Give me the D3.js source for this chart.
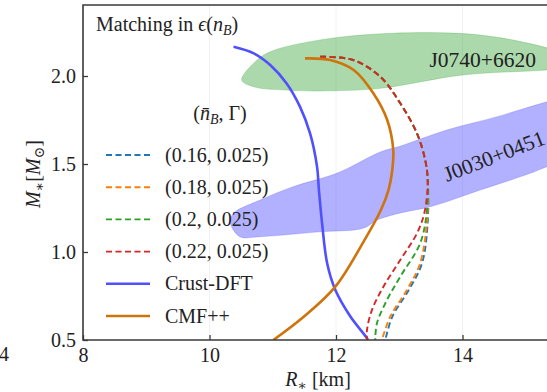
<!DOCTYPE html>
<html>
<head>
<meta charset="utf-8">
<script src="https://cdn.jsdelivr.net/npm/d3@7"></script>
<style>
  html, body { margin: 0; padding: 0; background: #fff; }
  svg { display: block; }
  text { font-family: "Liberation Serif", "DejaVu Serif", serif; fill: #222; }
</style>
</head>
<body>
<svg id="chart" width="547" height="392"></svg>
<script>
// Mass–radius curves, R in km and M in solar masses
const crustR = [10.38, 10.70, 10.96, 11.22, 11.43, 11.59, 11.70, 11.73, 11.78, 11.86, 11.99, 12.23, 12.49, 12.50];
const crustM = [2.166, 2.129, 2.063, 1.958, 1.826, 1.674, 1.485, 1.352, 1.163, 0.936, 0.784, 0.632, 0.510, 0.50];

const cmfR = [11.51, 11.91, 12.28, 12.59, 12.81, 12.905, 12.89, 12.83, 12.71, 12.45, 11.99, 11.49, 11.01];
const cmfM = [2.100, 2.091, 2.034, 1.902, 1.750, 1.580, 1.466, 1.352, 1.239, 1.068, 0.803, 0.632, 0.50];

// matching parameters (n̄_B, Γ) and resulting curves
const matchLabels = ["(0.16, 0.025)", "(0.18, 0.025)", "(0.2, 0.025)", "(0.22, 0.025)"];
const matchColors = ["#1f77b4", "#ff7f0e", "#2ca02c", "#d62728"];
const match016R = [11.75, 12.27, 12.70, 13.016, 13.28, 13.41, 13.45, 13.45, 13.36, 13.15, 12.89, 12.78];
const match016M = [2.110, 2.091, 1.996, 1.845, 1.674, 1.523, 1.409, 1.170, 0.936, 0.784, 0.632, 0.50];
const match018R = [11.75, 12.27, 12.70, 13.016, 13.28, 13.41, 13.45, 13.44, 13.33, 13.12, 12.857, 12.726];
const match018M = [2.110, 2.091, 1.996, 1.845, 1.674, 1.523, 1.409, 1.182, 0.936, 0.784, 0.632, 0.50];
const match020R = [11.75, 12.27, 12.70, 13.016, 13.28, 13.41, 13.45, 13.435, 13.33, 13.016, 12.805, 12.647, 12.62];
const match020M = [2.110, 2.091, 1.996, 1.845, 1.674, 1.523, 1.409, 1.227, 1.049, 0.860, 0.727, 0.595, 0.50];
const match022R = [11.75, 12.27, 12.70, 13.016, 13.28, 13.41, 13.45, 13.40, 13.28, 13.016, 12.75, 12.568, 12.49, 12.49];
const match022M = [2.110, 2.091, 1.996, 1.845, 1.674, 1.523, 1.409, 1.227, 1.106, 0.955, 0.803, 0.670, 0.557, 0.50];

// observational constraint regions (outline in R, M)
const j0740R = [10.51, 10.72, 10.96, 11.75, 12.90, 14.28, 15.34, 16.20, 15.34, 14.01, 12.70, 11.75, 11.22, 10.72];
const j0740M = [1.977, 2.080, 2.138, 2.205, 2.243, 2.233, 2.160, 2.060, 2.034, 2.006, 1.930, 1.915, 1.920, 1.937];
const j0030R = [10.33, 10.38, 10.80, 11.32, 12.01, 12.70, 13.02, 13.75, 14.55, 15.34, 16.20,
                16.20, 15.34, 15.07, 14.28, 13.49, 13.02, 12.65, 12.43, 11.75, 10.80, 10.48];
const j0030M = [1.165, 1.220, 1.295, 1.371, 1.447, 1.568, 1.602, 1.693, 1.769, 1.854, 1.930,
                1.580, 1.485, 1.447, 1.352, 1.257, 1.222, 1.182, 1.135, 1.115, 1.087, 1.087];

const xTicks = [8, 10, 12, 14];
const yTicks = [0.5, 1.0, 1.5, 2.0];

const svg = d3.select("#chart");
const pLeft = 83, pRight = 589, pTop = 5, pBottom = 340;
const x = d3.scaleLinear().domain([8, 16]).range([pLeft, pRight]);
const y = d3.scaleLinear().domain([0.5, 2.4035]).range([pBottom, pTop]);

svg.append("defs").append("clipPath").attr("id", "plot")
  .append("rect").attr("x", pLeft).attr("y", pTop).attr("width", pRight - pLeft).attr("height", pBottom - pTop);

const plot = svg.append("g").attr("clip-path", "url(#plot)");

// faint vertical guides
plot.selectAll("line.guide").data([10, 12, 14]).join("line")
  .attr("class", "guide")
  .attr("x1", d => x(d)).attr("x2", d => x(d))
  .attr("y1", pTop).attr("y2", pBottom)
  .attr("stroke", "#f2f2f2").attr("stroke-width", 1);

const zip = (rs, ms) => rs.map((r, i) => [r, ms[i]]);
const area = d3.line().x(d => x(d[0])).y(d => y(d[1])).curve(d3.curveCatmullRomClosed.alpha(0.5));
const curve = d3.line().x(d => x(d[0])).y(d => y(d[1])).curve(d3.curveCatmullRom.alpha(0.5));

plot.append("path").attr("d", area(zip(j0740R, j0740M)))
  .attr("fill", "#2ca02c").attr("fill-opacity", 0.4)
  .attr("stroke", "#2ca02c").attr("stroke-opacity", 0.25).attr("stroke-width", 1);
plot.append("path").attr("d", area(zip(j0030R, j0030M)))
  .attr("fill", "#3333ff").attr("fill-opacity", 0.38)
  .attr("stroke", "#3333ff").attr("stroke-opacity", 0.2).attr("stroke-width", 1);

plot.append("text").attr("x", x(14.32)).attr("y", y(2.09)).attr("text-anchor", "middle")
  .attr("dominant-baseline", "central").style("font-size", "21.5px").text("J0740+6620");
plot.append("text").attr("transform", "translate(447,182) rotate(-21)")
  .style("font-size", "21.5px").text("J0030+0451");

plot.append("path").attr("d", curve(zip(crustR, crustM)))
  .attr("fill", "none").attr("stroke", "#5050ff").attr("stroke-width", 2.6);
plot.append("path").attr("d", curve(zip(cmfR, cmfM)))
  .attr("fill", "none").attr("stroke", "#cf730b").attr("stroke-width", 2.6);

const matchSeries = [zip(match016R, match016M), zip(match018R, match018M), zip(match020R, match020M), zip(match022R, match022M)];
matchSeries.forEach((s, i) => {
  plot.append("path").attr("d", curve(s))
    .attr("fill", "none").attr("stroke", matchColors[i]).attr("stroke-width", 1.9)
    .attr("stroke-dasharray", "6,3.5");
});

// frame (right side lies outside the window)
svg.append("path")
  .attr("d", `M${pRight},${pTop}H${pLeft}V${pBottom}H${pRight}`)
  .attr("fill", "none").attr("stroke", "#3a3a3a").attr("stroke-width", 1.6);

const xAxis = svg.append("g").attr("transform", `translate(0,${pBottom})`)
  .call(d3.axisBottom(x).tickValues(xTicks).tickFormat(d3.format("d"))
    .tickSizeInner(-5).tickSizeOuter(0).tickPadding(8));
const yAxis = svg.append("g").attr("transform", `translate(${pLeft},0)`)
  .call(d3.axisLeft(y).tickValues(yTicks).tickFormat(d3.format(".1f"))
    .tickSizeInner(-5).tickSizeOuter(0).tickPadding(7));
[xAxis, yAxis].forEach(g => {
  g.select(".domain").remove();
  g.selectAll(".tick line").attr("stroke", "#3a3a3a").attr("stroke-width", 1.3);
  g.selectAll(".tick text").style("font-family", "'Liberation Serif', serif")
    .style("font-size", "20px").attr("fill", "#222");
});

// neighbouring tick label peeking in at the left edge
svg.append("text").attr("x", -1).attr("y", 361).style("font-size", "20px").text("4");

// axis titles
const xt = svg.append("text").attr("x", 318).attr("y", 386).attr("text-anchor", "middle").style("font-size", "20px");
xt.append("tspan").style("font-style", "italic").text("R");
xt.append("tspan").attr("dy", 4).style("font-size", "14px").text("∗");
xt.append("tspan").attr("dy", -4).text(" [km]");

const yt = svg.append("text").attr("transform", "translate(40,174) rotate(-90)")
  .attr("text-anchor", "middle").style("font-size", "20px");
yt.append("tspan").style("font-style", "italic").text("M");
yt.append("tspan").attr("dy", 4).style("font-size", "14px").text("∗");
yt.append("tspan").attr("dy", -4).text("[");
yt.append("tspan").style("font-style", "italic").text("M");
yt.append("tspan").attr("dy", 4).style("font-size", "14px").text("⊙");
yt.append("tspan").attr("dy", -4).text("]");

// panel title
const tt = svg.append("text").attr("x", 96).attr("y", 31).style("font-size", "20px");
tt.append("tspan").text("Matching in ");
tt.append("tspan").style("font-style", "italic").text("ϵ");
tt.append("tspan").text("(");
tt.append("tspan").style("font-style", "italic").text("n");
tt.append("tspan").attr("dy", 4).style("font-size", "14px").style("font-style", "italic").text("B");
tt.append("tspan").attr("dy", -4).text(")");

// legend
const lt = svg.append("text").attr("x", 220).attr("y", 120).attr("text-anchor", "middle").style("font-size", "20px");
lt.append("tspan").text("(");
lt.append("tspan").style("font-style", "italic").text("n̄");
lt.append("tspan").attr("dy", 4).style("font-size", "14px").style("font-style", "italic").text("B");
lt.append("tspan").attr("dy", -4).text(", Γ)");

const legendRows = matchLabels.map((t, i) => ({ label: t, color: matchColors[i], dash: true }))
  .concat([{ label: "Crust-DFT", color: "#5050ff", dash: false }, { label: "CMF++", color: "#cf730b", dash: false }]);
const rowY = d3.scalePoint().domain(d3.range(legendRows.length)).range([155, 316]);
const rows = svg.append("g").selectAll("g").data(legendRows).join("g")
  .attr("transform", (d, i) => `translate(0,${rowY(i)})`);
rows.append("line").attr("x1", 106).attr("x2", 150).attr("y1", 0).attr("y2", 0)
  .attr("stroke", d => d.color)
  .attr("stroke-width", d => d.dash ? 1.9 : 2.6)
  .attr("stroke-dasharray", d => d.dash ? "6,3.5" : null);
rows.append("text").attr("x", 165).attr("y", 0).attr("dy", "0.33em")
  .style("font-size", "20px").text(d => d.label);
</script>
</body>
</html>
